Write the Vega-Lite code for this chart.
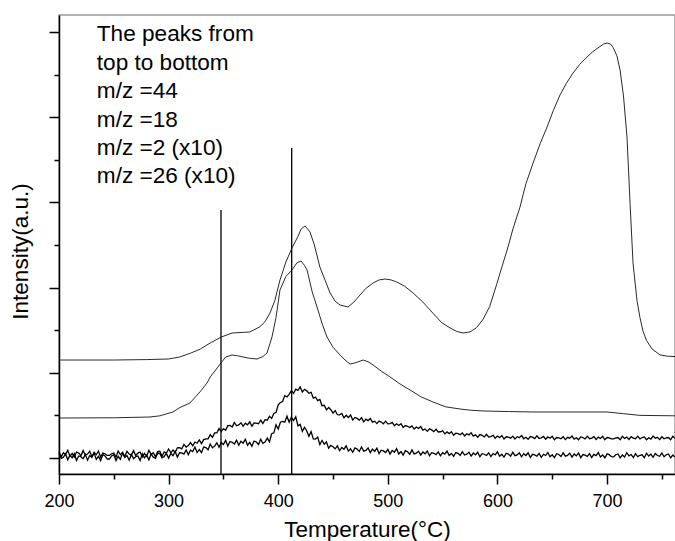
{
  "$schema": "https://vega.github.io/schema/vega-lite/v6.json",
  "width": 616,
  "height": 459,
  "autosize": "none",
  "padding": {"left": 59, "top": 15, "right": 0, "bottom": 67},
  "background": "white",
  "datasets": {
    "c44": [
      {"t":200,"v":11.5},{"t":250,"v":11.5},{"t":280,"v":11.55},{"t":300,"v":11.62},{"t":310,"v":11.85},{"t":320,"v":12.3},{"t":329,"v":12.79},{"t":338,"v":13.5},{"t":348,"v":14.2},{"t":358,"v":14.67},{"t":368,"v":14.75},{"t":374,"v":14.79},{"t":383,"v":15.38},{"t":388,"v":16.0},{"t":392.5,"v":17.02},{"t":397,"v":18.5},{"t":401.6,"v":20.89},{"t":407,"v":23.0},{"t":412.6,"v":24.65},{"t":418,"v":26.0},{"t":421,"v":26.9},{"t":424.5,"v":27.23},{"t":429,"v":26.53},{"t":433,"v":25.0},{"t":438,"v":22.42},{"t":443,"v":20.8},{"t":447.3,"v":19.37},{"t":452,"v":18.4},{"t":456.4,"v":17.96},{"t":463.7,"v":17.72},{"t":469,"v":18.3},{"t":474.6,"v":19.13},{"t":480,"v":19.9},{"t":486.5,"v":20.54},{"t":492,"v":20.9},{"t":497.4,"v":21.01},{"t":503,"v":20.9},{"t":508,"v":20.66},{"t":515,"v":20.2},{"t":523,"v":19.37},{"t":532,"v":18.3},{"t":541,"v":17.02},{"t":549,"v":15.9},{"t":556.8,"v":15.26},{"t":563,"v":14.85},{"t":568.6,"v":14.67},{"t":575,"v":14.8},{"t":581,"v":15.3},{"t":587,"v":16.3},{"t":593,"v":17.8},{"t":599.6,"v":20.5},{"t":604,"v":22.4},{"t":608.8,"v":24.4},{"t":614.2,"v":26.9},{"t":620.6,"v":29.46},{"t":626,"v":32.2},{"t":632.5,"v":34.62},{"t":639,"v":36.9},{"t":645.3,"v":38.85},{"t":651,"v":40.8},{"t":657.1,"v":42.61},{"t":663,"v":44.0},{"t":669,"v":45.19},{"t":675,"v":46.2},{"t":681.8,"v":47.07},{"t":687,"v":47.7},{"t":693.6,"v":48.3},{"t":697,"v":48.6},{"t":700,"v":48.71},{"t":703,"v":48.6},{"t":705.5,"v":48.2},{"t":709,"v":47.2},{"t":711.9,"v":45.54},{"t":715,"v":42.5},{"t":718.2,"v":37.7},{"t":721,"v":29.9},{"t":723.7,"v":22.9},{"t":727.4,"v":18.4},{"t":730,"v":16.5},{"t":732.8,"v":14.9},{"t":736,"v":13.8},{"t":741,"v":12.8},{"t":748.3,"v":12.1},{"t":755,"v":11.95},{"t":762,"v":11.9}
    ],
    "c18": [
      {"t":200,"v":4.69},{"t":250,"v":4.72},{"t":283,"v":4.81},{"t":292,"v":4.95},{"t":304,"v":5.4},{"t":310,"v":5.9},{"t":319.5,"v":6.46},{"t":328.6,"v":7.75},{"t":335,"v":8.8},{"t":338,"v":9.51},{"t":347.8,"v":11.15},{"t":352,"v":11.85},{"t":357.8,"v":12.09},{"t":363,"v":12.0},{"t":368,"v":11.85},{"t":374,"v":11.7},{"t":380.7,"v":11.62},{"t":386,"v":11.9},{"t":389.8,"v":12.32},{"t":394.3,"v":14.2},{"t":398,"v":16.5},{"t":401.6,"v":19.72},{"t":407,"v":21.3},{"t":412.6,"v":22.07},{"t":417,"v":22.9},{"t":420.8,"v":23.12},{"t":424,"v":22.6},{"t":426.3,"v":22.07},{"t":431,"v":19.5},{"t":435.4,"v":17.72},{"t":440,"v":15.8},{"t":444.5,"v":14.2},{"t":450,"v":13.0},{"t":456.4,"v":12.09},{"t":461,"v":11.5},{"t":465.5,"v":11.03},{"t":471,"v":11.2},{"t":477.4,"v":11.5},{"t":482,"v":11.3},{"t":486.5,"v":10.92},{"t":494,"v":10.2},{"t":502,"v":9.51},{"t":511,"v":8.7},{"t":520.3,"v":7.98},{"t":530,"v":7.2},{"t":541.2,"v":6.57},{"t":553,"v":6.0},{"t":565.9,"v":5.75},{"t":576,"v":5.6},{"t":586.9,"v":5.52},{"t":610,"v":5.45},{"t":632.5,"v":5.4},{"t":660,"v":5.4},{"t":700,"v":5.4},{"t":715,"v":5.2},{"t":730,"v":5.0},{"t":762,"v":4.95}
    ],
    "c2": [
      {"t":200,"v":0.74},{"t":202,"v":0.14},{"t":204,"v":0.62},{"t":206,"v":0.42},{"t":208,"v":0.9},{"t":210,"v":0.22},{"t":212,"v":0.54},{"t":214,"v":0.1},{"t":216,"v":0.7},{"t":218,"v":0.58},{"t":220,"v":0.26},{"t":222,"v":0.86},{"t":224,"v":0.34},{"t":226,"v":0.46},{"t":228,"v":0.78},{"t":230,"v":0.18},{"t":232,"v":0.66},{"t":234,"v":0.38},{"t":236,"v":0.82},{"t":238,"v":0.1},{"t":240,"v":0.58},{"t":242,"v":0.5},{"t":244,"v":0.3},
      {"t":246,"v":0.3},{"t":248,"v":0.5},{"t":250,"v":0.58},{"t":252,"v":0.1},{"t":254,"v":0.82},{"t":256,"v":0.38},{"t":258,"v":0.66},{"t":260,"v":0.18},{"t":262,"v":0.78},{"t":264,"v":0.46},{"t":266,"v":0.34},{"t":268,"v":0.86},{"t":270,"v":0.26},{"t":272,"v":0.58},{"t":274,"v":0.7},{"t":276,"v":0.1},{"t":278,"v":0.54},{"t":280,"v":0.22},{"t":282,"v":0.9},{"t":284,"v":0.42},{"t":286,"v":0.62},{"t":288,"v":0.14},{"t":290,"v":0.74},
      {"t":292,"v":0.79},{"t":294,"v":0.21},{"t":296,"v":0.72},{"t":298,"v":0.59},{"t":300,"v":1.05},{"t":302,"v":0.61},{"t":304,"v":0.93},{"t":306,"v":0.67},{"t":308,"v":1.2},{"t":310,"v":1.21},{"t":312,"v":1.07},{"t":314,"v":1.59},{"t":316,"v":1.28},{"t":318,"v":1.47},{"t":320,"v":1.81},{"t":322,"v":1.43},{"t":324,"v":1.87},{"t":326,"v":1.73},{"t":328,"v":2.12},{"t":330,"v":1.69},{"t":332,"v":2.16},{"t":334,"v":2.25},{"t":336,"v":2.25},{"t":338,"v":2.73},{"t":340,"v":2.43},{"t":342,"v":2.94},{"t":344,"v":2.94},{"t":346,"v":3.45},{"t":348,"v":3.09},{"t":350,"v":3.45},{"t":352,"v":3.25},{"t":354,"v":3.8},{"t":356,"v":3.81},{"t":358,"v":3.64},{"t":360,"v":4.15},{"t":362,"v":3.78},{"t":364,"v":3.89},{"t":366,"v":4.14},{"t":368,"v":3.71},{"t":370,"v":4.08},{"t":372,"v":3.89},{"t":374,"v":4.24},{"t":376,"v":3.72},{"t":378,"v":4.12},{"t":380,"v":4.1},{"t":382,"v":4.02},{"t":384,"v":4.43},{"t":386,"v":4.05},{"t":388,"v":4.49},{"t":390,"v":4.44},{"t":392,"v":4.9},{"t":394,"v":4.64},{"t":396,"v":5.23},{"t":398,"v":5.35},{"t":400,"v":6.25},{"t":402,"v":6.51},{"t":404,"v":6.62},{"t":406,"v":7.32},{"t":408,"v":7.18},{"t":410,"v":7.47},{"t":412,"v":7.91},{"t":414,"v":7.59},{"t":416,"v":8.07},{"t":418,"v":7.94},{"t":420,"v":8.34},{"t":422,"v":7.75},{"t":424,"v":8.06},{"t":426,"v":7.88},{"t":428,"v":7.6},{"t":430,"v":7.7},{"t":432,"v":7.03},{"t":434,"v":7.14},{"t":436,"v":6.74},{"t":438,"v":6.87},{"t":440,"v":6.14},{"t":442,"v":6.18},{"t":444,"v":5.65},{"t":446,"v":5.92},{"t":448,"v":5.66},{"t":450,"v":5.27},{"t":452,"v":5.57},{"t":454,"v":5.08},{"t":456,"v":5.07},{"t":458,"v":5.23},{"t":460,"v":4.71},{"t":462,"v":5.02},{"t":464,"v":4.76},{"t":466,"v":5.04},{"t":468,"v":4.45},{"t":470,"v":4.76},{"t":472,"v":4.65},{"t":474,"v":4.45},{"t":476,"v":4.73},{"t":478,"v":4.24},{"t":480,"v":4.56},{"t":482,"v":4.39},{"t":484,"v":4.62},{"t":486,"v":4.2},{"t":488,"v":4.32},{"t":490,"v":4.04},{"t":492,"v":4.33},{"t":494,"v":4.22},{"t":496,"v":4.02},{"t":498,"v":4.32},{"t":500,"v":4.01},{"t":502,"v":4.04},{"t":504,"v":4.17},{"t":506,"v":3.79},{"t":508,"v":4.02},{"t":510,"v":3.82},{"t":512,"v":4.03},{"t":514,"v":3.59},{"t":516,"v":3.81},{"t":518,"v":3.72},{"t":520,"v":3.57},{"t":522,"v":3.77},{"t":524,"v":3.4},{"t":526,"v":3.63},{"t":528,"v":3.47},{"t":530,"v":3.69},{"t":532,"v":3.28},{"t":534,"v":3.41},{"t":536,"v":3.13},{"t":538,"v":3.42},{"t":540,"v":3.3},{"t":542,"v":3.09},{"t":544,"v":3.38},{"t":546,"v":3.05},{"t":548,"v":3.08},{"t":550,"v":3.2},{"t":552,"v":2.83},{"t":554,"v":3.06},{"t":556,"v":2.86},{"t":558,"v":3.09},{"t":560,"v":2.67},{"t":562,"v":2.91},{"t":564,"v":2.85},{"t":566,"v":2.72},{"t":568,"v":2.94},{"t":570,"v":2.59},{"t":572,"v":2.84},{"t":574,"v":2.71},{"t":576,"v":2.95},{"t":578,"v":2.56},{"t":580,"v":2.71},{"t":582,"v":2.44},{"t":584,"v":2.75},{"t":586,"v":2.66},{"t":588,"v":2.47},{"t":590,"v":2.78},{"t":592,"v":2.47},{"t":594,"v":2.52},{"t":596,"v":2.67},{"t":598,"v":2.32},{"t":600,"v":2.57},{"t":602,"v":2.39},{"t":604,"v":2.64},{"t":606,"v":2.23},{"t":608,"v":2.49},{"t":610,"v":2.44},{"t":612,"v":2.33},{"t":614,"v":2.56},{"t":616,"v":2.23},{"t":618,"v":2.49},{"t":620,"v":2.38},{"t":622,"v":2.64},{"t":624,"v":2.26},{"t":626,"v":2.43},{"t":628,"v":2.19},{"t":630,"v":2.52},{"t":632,"v":2.44},{"t":634,"v":2.27},{"t":636,"v":2.6},{"t":638,"v":2.3},{"t":640,"v":2.37},{"t":642,"v":2.54},{"t":644,"v":2.2},{"t":646,"v":2.47},{"t":648,"v":2.31},{"t":650,"v":2.54},{"t":652,"v":2.14},{"t":654,"v":2.4},{"t":656,"v":2.36},{"t":658,"v":2.25},{"t":660,"v":2.49},{"t":662,"v":2.16},{"t":664,"v":2.43},{"t":666,"v":2.32},{"t":668,"v":2.58},{"t":670,"v":2.21},{"t":672,"v":2.38},{"t":674,"v":2.14},{"t":676,"v":2.47},{"t":678,"v":2.4},{"t":680,"v":2.23},{"t":682,"v":2.56},{"t":684,"v":2.27},{"t":686,"v":2.34},{"t":688,"v":2.51},{"t":690,"v":2.18},{"t":692,"v":2.45},{"t":694,"v":2.29},{"t":696,"v":2.54},{"t":698,"v":2.14},{"t":700,"v":2.4},{"t":702,"v":2.36},{"t":704,"v":2.25},{"t":706,"v":2.25},{"t":708,"v":2.36},{"t":710,"v":2.4},{"t":712,"v":2.14},{"t":714,"v":2.54},{"t":716,"v":2.29},{"t":718,"v":2.45},{"t":720,"v":2.18},{"t":722,"v":2.51},{"t":724,"v":2.34},{"t":726,"v":2.27},{"t":728,"v":2.56},{"t":730,"v":2.23},{"t":732,"v":2.4},{"t":734,"v":2.47},{"t":736,"v":2.14},{"t":738,"v":2.38},{"t":740,"v":2.21},{"t":742,"v":2.58},{"t":744,"v":2.32},{"t":746,"v":2.43},{"t":748,"v":2.16},{"t":750,"v":2.49},{"t":752,"v":2.25},{"t":754,"v":2.36},{"t":756,"v":2.4},{"t":758,"v":2.14},{"t":760,"v":2.54},{"t":762,"v":2.3}
    ],
    "c26": [
      {"t":200,"v":0.56},{"t":202,"v":-0.03},{"t":204,"v":0.1},{"t":206,"v":0.47},{"t":208,"v":-0.21},{"t":210,"v":0.33},{"t":212,"v":0.01},{"t":214,"v":0.51},{"t":216,"v":-0.3},{"t":218,"v":0.24},{"t":220,"v":0.15},{"t":222,"v":-0.08},{"t":224,"v":0.42},{"t":226,"v":-0.26},{"t":228,"v":0.29},{"t":230,"v":0.06},{"t":232,"v":0.6},{"t":234,"v":-0.17},{"t":236,"v":0.2},{"t":238,"v":-0.3},{"t":240,"v":0.38},{"t":242,"v":0.24},{"t":244,"v":-0.12},
      {"t":246,"v":-0.12},{"t":248,"v":0.24},{"t":250,"v":0.38},{"t":252,"v":-0.3},{"t":254,"v":0.2},{"t":256,"v":-0.17},{"t":258,"v":0.6},{"t":260,"v":0.06},{"t":262,"v":0.29},{"t":264,"v":-0.26},{"t":266,"v":0.42},{"t":268,"v":-0.08},{"t":270,"v":0.15},{"t":272,"v":0.24},{"t":274,"v":-0.3},{"t":276,"v":0.51},{"t":278,"v":0.01},{"t":280,"v":0.33},{"t":282,"v":-0.21},{"t":284,"v":0.47},{"t":286,"v":0.1},{"t":288,"v":-0.03},{"t":290,"v":0.56},
      {"t":292,"v":0.51},{"t":294,"v":0.02},{"t":296,"v":0.18},{"t":298,"v":0.54},{"t":300,"v":-0.02},{"t":302,"v":0.51},{"t":304,"v":0.28},{"t":306,"v":0.77},{"t":308,"v":0.1},{"t":310,"v":0.63},{"t":312,"v":0.6},{"t":314,"v":0.45},{"t":316,"v":0.94},{"t":318,"v":0.39},{"t":320,"v":0.92},{"t":322,"v":0.76},{"t":324,"v":1.28},{"t":326,"v":0.64},{"t":328,"v":0.99},{"t":330,"v":0.62},{"t":332,"v":1.28},{"t":334,"v":1.22},{"t":336,"v":0.96},{"t":338,"v":1.64},{"t":340,"v":1.19},{"t":342,"v":1.39},{"t":344,"v":1.78},{"t":346,"v":1.25},{"t":348,"v":1.8},{"t":350,"v":1.58},{"t":352,"v":2.07},{"t":354,"v":1.4},{"t":356,"v":1.93},{"t":358,"v":1.85},{"t":360,"v":1.65},{"t":362,"v":2.09},{"t":364,"v":1.49},{"t":366,"v":1.96},{"t":368,"v":1.74},{"t":370,"v":2.2},{"t":372,"v":1.5},{"t":374,"v":1.82},{"t":376,"v":1.38},{"t":378,"v":1.99},{"t":380,"v":1.88},{"t":382,"v":1.58},{"t":384,"v":2.2},{"t":386,"v":1.71},{"t":388,"v":1.86},{"t":390,"v":2.33},{"t":392,"v":1.9},{"t":394,"v":2.85},{"t":396,"v":2.95},{"t":398,"v":3.9},{"t":400,"v":3.4},{"t":402,"v":4.2},{"t":404,"v":4.3},{"t":406,"v":4.2},{"t":408,"v":4.9},{"t":410,"v":4.2},{"t":412,"v":4.8},{"t":414,"v":4.4},{"t":416,"v":4.85},{"t":418,"v":3.77},{"t":420,"v":3.95},{"t":422,"v":3.12},{"t":424,"v":3.6},{"t":426,"v":3.2},{"t":428,"v":2.55},{"t":430,"v":3.1},{"t":432,"v":2.25},{"t":434,"v":2.22},{"t":436,"v":2.45},{"t":438,"v":1.57},{"t":440,"v":2.05},{"t":442,"v":1.61},{"t":444,"v":1.88},{"t":446,"v":1.15},{"t":448,"v":1.47},{"t":450,"v":1.32},{"t":452,"v":1.07},{"t":454,"v":1.42},{"t":456,"v":0.85},{"t":458,"v":1.24},{"t":460,"v":1.03},{"t":462,"v":1.43},{"t":464,"v":0.81},{"t":466,"v":1.08},{"t":468,"v":0.67},{"t":470,"v":1.18},{"t":472,"v":1.06},{"t":474,"v":0.77},{"t":476,"v":1.29},{"t":478,"v":0.81},{"t":480,"v":0.9},{"t":482,"v":1.18},{"t":484,"v":0.63},{"t":486,"v":1.04},{"t":488,"v":0.77},{"t":490,"v":1.15},{"t":492,"v":0.51},{"t":494,"v":0.91},{"t":496,"v":0.83},{"t":498,"v":0.63},{"t":500,"v":1.01},{"t":502,"v":0.46},{"t":504,"v":0.88},{"t":506,"v":0.68},{"t":508,"v":1.09},{"t":510,"v":0.47},{"t":512,"v":0.75},{"t":514,"v":0.34},{"t":516,"v":0.86},{"t":518,"v":0.73},{"t":520,"v":0.44},{"t":522,"v":0.95},{"t":524,"v":0.48},{"t":526,"v":0.56},{"t":528,"v":0.8},{"t":530,"v":0.35},{"t":532,"v":0.7},{"t":534,"v":0.49},{"t":536,"v":0.81},{"t":538,"v":0.26},{"t":540,"v":0.62},{"t":542,"v":0.55},{"t":544,"v":0.39},{"t":546,"v":0.72},{"t":548,"v":0.26},{"t":550,"v":0.62},{"t":552,"v":0.46},{"t":554,"v":0.81},{"t":556,"v":0.3},{"t":558,"v":0.53},{"t":560,"v":0.2},{"t":562,"v":0.64},{"t":564,"v":0.54},{"t":566,"v":0.3},{"t":568,"v":0.74},{"t":570,"v":0.35},{"t":572,"v":0.44},{"t":574,"v":0.67},{"t":576,"v":0.22},{"t":578,"v":0.58},{"t":580,"v":0.36},{"t":582,"v":0.69},{"t":584,"v":0.15},{"t":586,"v":0.5},{"t":588,"v":0.44},{"t":590,"v":0.29},{"t":592,"v":0.61},{"t":594,"v":0.16},{"t":596,"v":0.52},{"t":598,"v":0.36},{"t":600,"v":0.72},{"t":602,"v":0.21},{"t":604,"v":0.44},{"t":606,"v":0.11},{"t":608,"v":0.56},{"t":610,"v":0.46},{"t":612,"v":0.22},{"t":614,"v":0.67},{"t":616,"v":0.27},{"t":618,"v":0.36},{"t":620,"v":0.6},{"t":622,"v":0.14},{"t":624,"v":0.5},{"t":626,"v":0.29},{"t":628,"v":0.61},{"t":630,"v":0.07},{"t":632,"v":0.43},{"t":634,"v":0.36},{"t":636,"v":0.21},{"t":638,"v":0.54},{"t":640,"v":0.08},{"t":642,"v":0.44},{"t":644,"v":0.29},{"t":646,"v":0.65},{"t":648,"v":0.14},{"t":650,"v":0.38},{"t":652,"v":0.05},{"t":654,"v":0.5},{"t":656,"v":0.41},{"t":658,"v":0.17},{"t":660,"v":0.61},{"t":662,"v":0.22},{"t":664,"v":0.31},{"t":666,"v":0.55},{"t":668,"v":0.1},{"t":670,"v":0.46},{"t":672,"v":0.25},{"t":674,"v":0.58},{"t":676,"v":0.04},{"t":678,"v":0.4},{"t":680,"v":0.33},{"t":682,"v":0.18},{"t":684,"v":0.51},{"t":686,"v":0.06},{"t":688,"v":0.42},{"t":690,"v":0.27},{"t":692,"v":0.63},{"t":694,"v":0.12},{"t":696,"v":0.36},{"t":698,"v":0.03},{"t":700,"v":0.48},{"t":702,"v":0.39},{"t":704,"v":0.15},{"t":706,"v":0.14},{"t":708,"v":0.38},{"t":710,"v":0.47},{"t":712,"v":0.02},{"t":714,"v":0.35},{"t":716,"v":0.11},{"t":718,"v":0.62},{"t":720,"v":0.26},{"t":722,"v":0.41},{"t":724,"v":0.05},{"t":726,"v":0.5},{"t":728,"v":0.17},{"t":730,"v":0.32},{"t":732,"v":0.38},{"t":734,"v":0.02},{"t":736,"v":0.56},{"t":738,"v":0.23},{"t":740,"v":0.44},{"t":742,"v":0.08},{"t":744,"v":0.53},{"t":746,"v":0.29},{"t":748,"v":0.2},{"t":750,"v":0.59},{"t":752,"v":0.14},{"t":754,"v":0.38},{"t":756,"v":0.47},{"t":758,"v":0.02},{"t":760,"v":0.35},{"t":762,"v":0.11}
    ],
    "vlines": [
      {"t":347.8,"v":-1.88,"v2":29.11},
      {"t":412.3,"v":-1.88,"v2":36.38}
    ],
    "note": [
      {"lines": ["The peaks from", "top to bottom", "m/z =44", "m/z =18", "m/z =2 (x10)", "m/z =26 (x10)"]}
    ]
  },
  "layer": [
    {
      "data": {"name": "c44"},
      "mark": {"type": "line", "color": "#2a2a2a", "strokeWidth": 1},
      "encoding": {
        "x": {
          "field": "t", "type": "quantitative",
          "scale": {"domain": [200, 762], "nice": false, "zero": false},
          "axis": {
            "values": [200,250,300,350,400,450,500,550,600,650,700,750],
            "labelExpr": "datum.value % 100 === 0 ? datum.label : ''",
            "tickSize": {"condition": {"test": "datum.value % 100 === 0", "value": 10}, "value": 5},
            "labelFlush": false,
            "labelOverlap": false,
            "labelPadding": 8,
            "title": "Temperature(°C)",
            "titleFontSize": 22.5,
            "titlePadding": 8
          }
        },
        "y": {
          "field": "v", "type": "quantitative",
          "scale": {"domain": [-1.88, 52.0], "nice": false, "zero": false},
          "axis": {
            "values": [0,5,10,15,20,25,30,35,40,45,50],
            "labels": false,
            "tickSize": {"condition": {"test": "datum.value % 10 === 0", "value": 10}, "value": 5},
            "title": "Intensity(a.u.)",
            "titleFontSize": 22.5,
            "titlePadding": 16,
            "titleY": 236
          }
        }
      }
    },
    {
      "data": {"name": "c18"},
      "mark": {"type": "line", "color": "#2a2a2a", "strokeWidth": 1},
      "encoding": {
        "x": {"field": "t", "type": "quantitative", "scale": {"domain": [200, 762], "nice": false, "zero": false}},
        "y": {"field": "v", "type": "quantitative", "scale": {"domain": [-1.88, 52.0], "nice": false, "zero": false}}
      }
    },
    {
      "data": {"name": "c2"},
      "mark": {"type": "line", "color": "#000", "strokeWidth": 1.3},
      "encoding": {
        "x": {"field": "t", "type": "quantitative", "scale": {"domain": [200, 762], "nice": false, "zero": false}},
        "y": {"field": "v", "type": "quantitative", "scale": {"domain": [-1.88, 52.0], "nice": false, "zero": false}}
      }
    },
    {
      "data": {"name": "c26"},
      "mark": {"type": "line", "color": "#000", "strokeWidth": 1.3},
      "encoding": {
        "x": {"field": "t", "type": "quantitative", "scale": {"domain": [200, 762], "nice": false, "zero": false}},
        "y": {"field": "v", "type": "quantitative", "scale": {"domain": [-1.88, 52.0], "nice": false, "zero": false}}
      }
    },
    {
      "data": {"name": "vlines"},
      "mark": {"type": "rule", "color": "#000", "strokeWidth": 1.3},
      "encoding": {
        "x": {"field": "t", "type": "quantitative", "scale": {"domain": [200, 762], "nice": false, "zero": false}},
        "y": {"field": "v", "type": "quantitative", "scale": {"domain": [-1.88, 52.0], "nice": false, "zero": false}},
        "y2": {"field": "v2"}
      }
    },
    {
      "data": {"name": "note"},
      "mark": {
        "type": "text",
        "font": "Liberation Sans",
        "fontSize": 22.6,
        "lineHeight": 28.4,
        "align": "left",
        "baseline": "alphabetic",
        "fill": "#000"
      },
      "encoding": {
        "x": {"datum": 234.5, "type": "quantitative"},
        "y": {"datum": 48.9, "type": "quantitative"},
        "text": {"field": "lines"}
      }
    }
  ],
  "config": {
    "view": {"stroke": "#999", "strokeWidth": 1.5},
    "axis": {
      "grid": false,
      "domainColor": "#000",
      "domainWidth": 1.5,
      "tickColor": "#000",
      "tickWidth": 1.5,
      "labelFont": "Liberation Sans",
      "titleFont": "Liberation Sans",
      "labelFontSize": 18,
      "titleFontSize": 21,
      "titleFontWeight": "normal",
      "labelColor": "#000",
      "titleColor": "#000"
    }
  }
}
